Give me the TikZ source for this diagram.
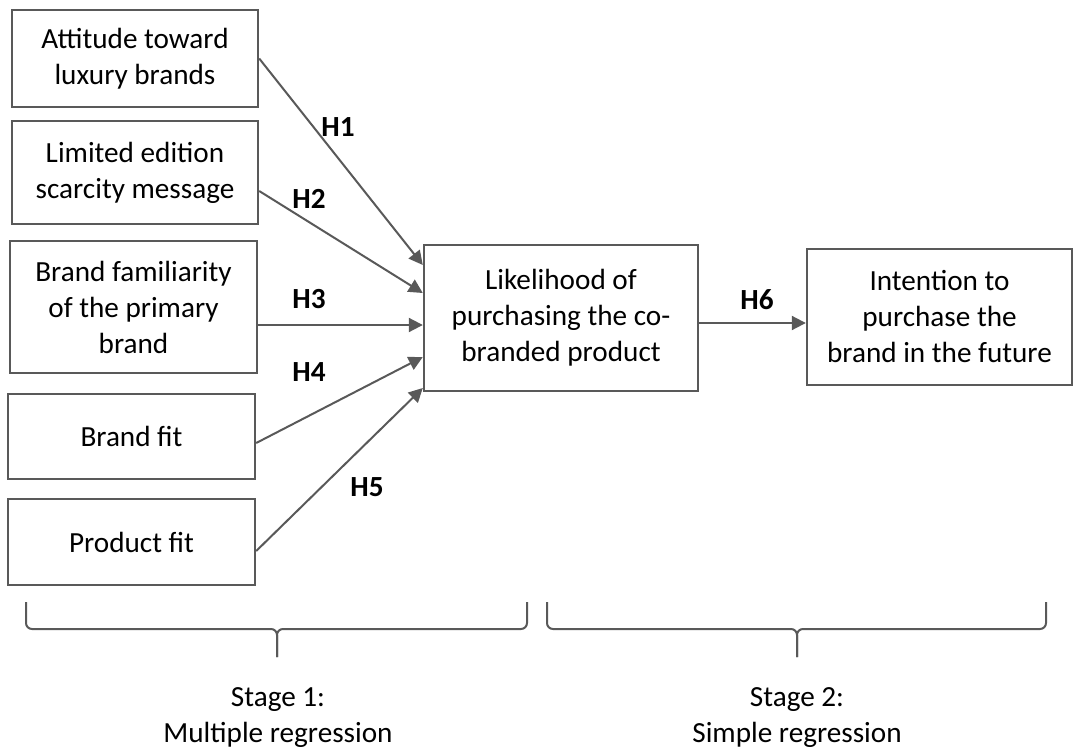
\documentclass[tikz,border=0pt]{standalone}
\usepackage{fontspec}
\setmainfont{Carlito}
\usetikzlibrary{arrows.meta}
\definecolor{linegray}{HTML}{595959}

\begin{document}
\begin{tikzpicture}[x=0.5pt, y=-0.5pt,
   box/.style={draw=linegray, line width=1.2pt, align=center, inner sep=0pt,
               font=\fontsize{14.6}{18}\selectfont},
   hyp/.style={font=\fontsize{14.6}{18}\selectfont\bfseries},
   stage/.style={align=center, font=\fontsize{14.6}{18}\selectfont},
   link/.style={draw=linegray, line width=1pt, -{Triangle[length=7pt, width=7pt]}},
   bracket/.style={draw=linegray, line width=1pt, rounded corners=3pt}]
   \useasboundingbox (0,0) rectangle (1074,749);

   % predictors
   \node[box, minimum width=123pt, minimum height=48.5pt] (att) at (135,58.5) {Attitude toward\\luxury brands};
   \node[box, minimum width=123pt, minimum height=51.5pt] (lim) at (135,172.5) {Limited edition\\scarcity message};
   \node[box, minimum width=123.5pt, minimum height=66pt] (fam) at (133.5,307) {Brand familiarity\\of the primary\\brand};
   \node[box, minimum width=123.5pt, minimum height=42.5pt] (bfit) at (131.5,436.5) {Brand fit};
   \node[box, minimum width=123.5pt, minimum height=43pt] (pfit) at (131.5,542) {Product fit};

   % outcomes
   \node[box, minimum width=137pt, minimum height=73pt] (like) at (561,318) {Likelihood of\\purchasing the co-\\branded product};
   \node[box, minimum width=132.5pt, minimum height=68pt] (intent) at (939.5,317) {Intention to\\purchase the\\brand in the future};

   \path[link] (att.east) -- ([yshift=26.5pt]like.west);
   \path[link] ([yshift=-9.25pt]lim.east) -- ([yshift=12.5pt]like.west);
   \path[link] ([yshift=-9pt]fam.east) -- ([yshift=-3.5pt]like.west);
   \path[link] ([yshift=-3.25pt]bfit.east) -- ([yshift=-19.5pt]like.west);
   \path[link] ([yshift=-4.5pt]pfit.east) -- ([yshift=-35pt]like.west);
   \path[link] ([yshift=-2.5pt]like.east) -- ([yshift=-3pt]intent.west);

   \node[hyp] (h1) at (338,127) {H1};
   \node[hyp] (h2) at (309,199) {H2};
   \node[hyp] (h3) at (309,299) {H3};
   \node[hyp] (h4) at (309,372) {H4};
   \node[hyp] (h5) at (367,487) {H5};
   \node[hyp] (h6) at (757,300) {H6};

   % stages
   \path[bracket] (26,602) -- (26,629) -- (277,629) -- (277,657);
   \path[bracket] (277,657) -- (277,629) -- (527,629) -- (527,602);
   \path[bracket] (547,602) -- (547,629) -- (797,629) -- (797,657);
   \path[bracket] (797,657) -- (797,629) -- (1046,629) -- (1046,602);

   \node[stage] (s1) at (278,718) {Stage 1:\\Multiple regression};
   \node[stage] (s2) at (797,718) {Stage 2:\\Simple regression};
\end{tikzpicture}
\end{document}
